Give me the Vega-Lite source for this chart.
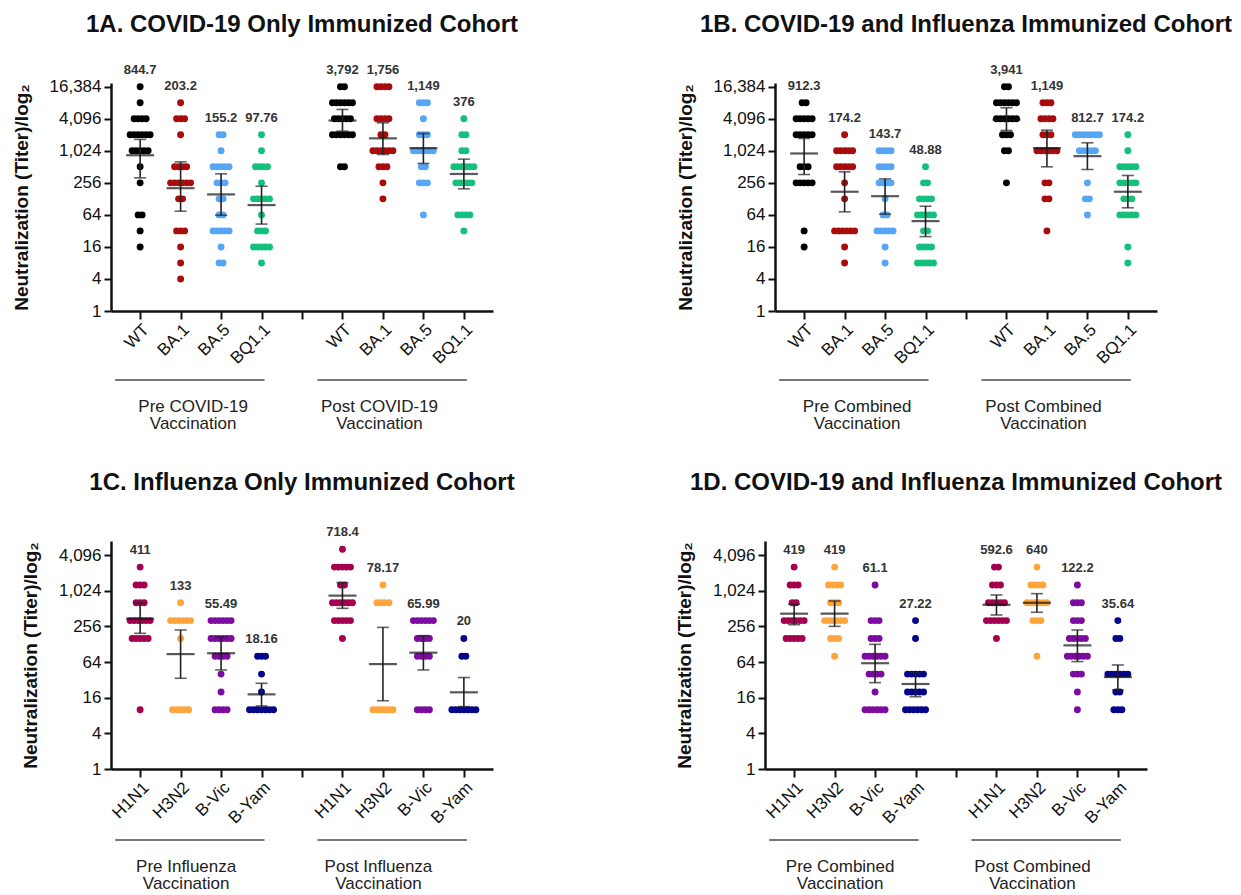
{
"$schema":"https://vega.github.io/schema/vega-lite/v6.json",
"padding":{"left":12,"top":12,"right":0,"bottom":0},
"config":{"font":"Liberation Sans","view":{"stroke":null},
"title":{"fontSize":24,"fontWeight":"bold","color":"#111","anchor":"middle","frame":"group","offset":27},
"axis":{"domainColor":"#111","domainWidth":2.5,"tickColor":"#111","tickWidth":2,"tickSize":7,"labelColor":"#111","grid":false,"titleColor":"#111","labelFlush":false},
"axisX":{"labelAngle":-45,"labelFontSize":17,"tickSize":8,"labelPadding":2},
"axisY":{"labelFontSize":17,"titleFontSize":19,"titleFontWeight":"bold","titlePadding":18,"labelPadding":3}},
"datasets":{
"a":[
{"c":"Pre|WT","t":16384},{"c":"Pre|WT","t":8192},{"c":"Pre|WT","t":4096},{"c":"Pre|WT","t":4096},{"c":"Pre|WT","t":4096},{"c":"Pre|WT","t":4096},{"c":"Pre|WT","t":2048},{"c":"Pre|WT","t":2048},{"c":"Pre|WT","t":2048},{"c":"Pre|WT","t":2048},{"c":"Pre|WT","t":2048},{"c":"Pre|WT","t":2048},{"c":"Pre|WT","t":1024},{"c":"Pre|WT","t":1024},{"c":"Pre|WT","t":1024},{"c":"Pre|WT","t":1024},{"c":"Pre|WT","t":1024},{"c":"Pre|WT","t":512},{"c":"Pre|WT","t":256},{"c":"Pre|WT","t":64},{"c":"Pre|WT","t":64},{"c":"Pre|WT","t":32},{"c":"Pre|WT","t":16},
{"c":"Pre|BA.1","t":8192},{"c":"Pre|BA.1","t":4096},{"c":"Pre|BA.1","t":4096},{"c":"Pre|BA.1","t":4096},{"c":"Pre|BA.1","t":2048},{"c":"Pre|BA.1","t":512},{"c":"Pre|BA.1","t":512},{"c":"Pre|BA.1","t":512},{"c":"Pre|BA.1","t":512},{"c":"Pre|BA.1","t":256},{"c":"Pre|BA.1","t":256},{"c":"Pre|BA.1","t":256},{"c":"Pre|BA.1","t":256},{"c":"Pre|BA.1","t":256},{"c":"Pre|BA.1","t":256},{"c":"Pre|BA.1","t":128},{"c":"Pre|BA.1","t":128},{"c":"Pre|BA.1","t":32},{"c":"Pre|BA.1","t":32},{"c":"Pre|BA.1","t":32},{"c":"Pre|BA.1","t":16},{"c":"Pre|BA.1","t":8},{"c":"Pre|BA.1","t":4},
{"c":"Pre|BA.5","t":2048},{"c":"Pre|BA.5","t":2048},{"c":"Pre|BA.5","t":1024},{"c":"Pre|BA.5","t":512},{"c":"Pre|BA.5","t":512},{"c":"Pre|BA.5","t":512},{"c":"Pre|BA.5","t":512},{"c":"Pre|BA.5","t":512},{"c":"Pre|BA.5","t":256},{"c":"Pre|BA.5","t":256},{"c":"Pre|BA.5","t":256},{"c":"Pre|BA.5","t":128},{"c":"Pre|BA.5","t":128},{"c":"Pre|BA.5","t":64},{"c":"Pre|BA.5","t":64},{"c":"Pre|BA.5","t":32},{"c":"Pre|BA.5","t":32},{"c":"Pre|BA.5","t":32},{"c":"Pre|BA.5","t":32},{"c":"Pre|BA.5","t":32},{"c":"Pre|BA.5","t":16},{"c":"Pre|BA.5","t":8},{"c":"Pre|BA.5","t":8},
{"c":"Pre|BQ1.1","t":2048},{"c":"Pre|BQ1.1","t":1024},{"c":"Pre|BQ1.1","t":512},{"c":"Pre|BQ1.1","t":512},{"c":"Pre|BQ1.1","t":512},{"c":"Pre|BQ1.1","t":512},{"c":"Pre|BQ1.1","t":256},{"c":"Pre|BQ1.1","t":128},{"c":"Pre|BQ1.1","t":128},{"c":"Pre|BQ1.1","t":128},{"c":"Pre|BQ1.1","t":128},{"c":"Pre|BQ1.1","t":128},{"c":"Pre|BQ1.1","t":64},{"c":"Pre|BQ1.1","t":32},{"c":"Pre|BQ1.1","t":32},{"c":"Pre|BQ1.1","t":32},{"c":"Pre|BQ1.1","t":16},{"c":"Pre|BQ1.1","t":16},{"c":"Pre|BQ1.1","t":16},{"c":"Pre|BQ1.1","t":16},{"c":"Pre|BQ1.1","t":16},{"c":"Pre|BQ1.1","t":8},
{"c":"Post|WT","t":16384},{"c":"Post|WT","t":16384},{"c":"Post|WT","t":8192},{"c":"Post|WT","t":8192},{"c":"Post|WT","t":8192},{"c":"Post|WT","t":8192},{"c":"Post|WT","t":8192},{"c":"Post|WT","t":8192},{"c":"Post|WT","t":4096},{"c":"Post|WT","t":4096},{"c":"Post|WT","t":4096},{"c":"Post|WT","t":4096},{"c":"Post|WT","t":4096},{"c":"Post|WT","t":2048},{"c":"Post|WT","t":2048},{"c":"Post|WT","t":2048},{"c":"Post|WT","t":2048},{"c":"Post|WT","t":2048},{"c":"Post|WT","t":2048},{"c":"Post|WT","t":512},{"c":"Post|WT","t":512},
{"c":"Post|BA.1","t":16384},{"c":"Post|BA.1","t":16384},{"c":"Post|BA.1","t":16384},{"c":"Post|BA.1","t":16384},{"c":"Post|BA.1","t":4096},{"c":"Post|BA.1","t":4096},{"c":"Post|BA.1","t":4096},{"c":"Post|BA.1","t":4096},{"c":"Post|BA.1","t":2048},{"c":"Post|BA.1","t":2048},{"c":"Post|BA.1","t":1024},{"c":"Post|BA.1","t":1024},{"c":"Post|BA.1","t":1024},{"c":"Post|BA.1","t":1024},{"c":"Post|BA.1","t":1024},{"c":"Post|BA.1","t":1024},{"c":"Post|BA.1","t":512},{"c":"Post|BA.1","t":512},{"c":"Post|BA.1","t":512},{"c":"Post|BA.1","t":256},{"c":"Post|BA.1","t":128},
{"c":"Post|BA.5","t":8192},{"c":"Post|BA.5","t":8192},{"c":"Post|BA.5","t":8192},{"c":"Post|BA.5","t":4096},{"c":"Post|BA.5","t":2048},{"c":"Post|BA.5","t":2048},{"c":"Post|BA.5","t":2048},{"c":"Post|BA.5","t":1024},{"c":"Post|BA.5","t":1024},{"c":"Post|BA.5","t":1024},{"c":"Post|BA.5","t":1024},{"c":"Post|BA.5","t":1024},{"c":"Post|BA.5","t":1024},{"c":"Post|BA.5","t":512},{"c":"Post|BA.5","t":512},{"c":"Post|BA.5","t":256},{"c":"Post|BA.5","t":256},{"c":"Post|BA.5","t":256},{"c":"Post|BA.5","t":64},
{"c":"Post|BQ1.1","t":4096},{"c":"Post|BQ1.1","t":2048},{"c":"Post|BQ1.1","t":2048},{"c":"Post|BQ1.1","t":1024},{"c":"Post|BQ1.1","t":1024},{"c":"Post|BQ1.1","t":512},{"c":"Post|BQ1.1","t":512},{"c":"Post|BQ1.1","t":512},{"c":"Post|BQ1.1","t":512},{"c":"Post|BQ1.1","t":512},{"c":"Post|BQ1.1","t":512},{"c":"Post|BQ1.1","t":256},{"c":"Post|BQ1.1","t":256},{"c":"Post|BQ1.1","t":256},{"c":"Post|BQ1.1","t":256},{"c":"Post|BQ1.1","t":256},{"c":"Post|BQ1.1","t":64},{"c":"Post|BQ1.1","t":64},{"c":"Post|BQ1.1","t":64},{"c":"Post|BQ1.1","t":64},{"c":"Post|BQ1.1","t":32}
],
"b":[
{"c":"Pre|WT","t":8192},{"c":"Pre|WT","t":8192},{"c":"Pre|WT","t":4096},{"c":"Pre|WT","t":4096},{"c":"Pre|WT","t":4096},{"c":"Pre|WT","t":4096},{"c":"Pre|WT","t":4096},{"c":"Pre|WT","t":2048},{"c":"Pre|WT","t":2048},{"c":"Pre|WT","t":2048},{"c":"Pre|WT","t":2048},{"c":"Pre|WT","t":2048},{"c":"Pre|WT","t":512},{"c":"Pre|WT","t":512},{"c":"Pre|WT","t":512},{"c":"Pre|WT","t":256},{"c":"Pre|WT","t":256},{"c":"Pre|WT","t":256},{"c":"Pre|WT","t":256},{"c":"Pre|WT","t":256},{"c":"Pre|WT","t":32},{"c":"Pre|WT","t":16},
{"c":"Pre|BA.1","t":2048},{"c":"Pre|BA.1","t":1024},{"c":"Pre|BA.1","t":1024},{"c":"Pre|BA.1","t":1024},{"c":"Pre|BA.1","t":1024},{"c":"Pre|BA.1","t":1024},{"c":"Pre|BA.1","t":512},{"c":"Pre|BA.1","t":512},{"c":"Pre|BA.1","t":512},{"c":"Pre|BA.1","t":512},{"c":"Pre|BA.1","t":512},{"c":"Pre|BA.1","t":256},{"c":"Pre|BA.1","t":128},{"c":"Pre|BA.1","t":32},{"c":"Pre|BA.1","t":32},{"c":"Pre|BA.1","t":32},{"c":"Pre|BA.1","t":32},{"c":"Pre|BA.1","t":32},{"c":"Pre|BA.1","t":32},{"c":"Pre|BA.1","t":16},{"c":"Pre|BA.1","t":8},
{"c":"Pre|BA.5","t":1024},{"c":"Pre|BA.5","t":1024},{"c":"Pre|BA.5","t":1024},{"c":"Pre|BA.5","t":1024},{"c":"Pre|BA.5","t":512},{"c":"Pre|BA.5","t":512},{"c":"Pre|BA.5","t":512},{"c":"Pre|BA.5","t":512},{"c":"Pre|BA.5","t":256},{"c":"Pre|BA.5","t":256},{"c":"Pre|BA.5","t":256},{"c":"Pre|BA.5","t":256},{"c":"Pre|BA.5","t":128},{"c":"Pre|BA.5","t":64},{"c":"Pre|BA.5","t":64},{"c":"Pre|BA.5","t":32},{"c":"Pre|BA.5","t":32},{"c":"Pre|BA.5","t":32},{"c":"Pre|BA.5","t":32},{"c":"Pre|BA.5","t":32},{"c":"Pre|BA.5","t":16},{"c":"Pre|BA.5","t":8},
{"c":"Pre|BQ1.1","t":512},{"c":"Pre|BQ1.1","t":256},{"c":"Pre|BQ1.1","t":256},{"c":"Pre|BQ1.1","t":128},{"c":"Pre|BQ1.1","t":128},{"c":"Pre|BQ1.1","t":128},{"c":"Pre|BQ1.1","t":128},{"c":"Pre|BQ1.1","t":64},{"c":"Pre|BQ1.1","t":64},{"c":"Pre|BQ1.1","t":64},{"c":"Pre|BQ1.1","t":64},{"c":"Pre|BQ1.1","t":64},{"c":"Pre|BQ1.1","t":32},{"c":"Pre|BQ1.1","t":32},{"c":"Pre|BQ1.1","t":16},{"c":"Pre|BQ1.1","t":16},{"c":"Pre|BQ1.1","t":16},{"c":"Pre|BQ1.1","t":16},{"c":"Pre|BQ1.1","t":8},{"c":"Pre|BQ1.1","t":8},{"c":"Pre|BQ1.1","t":8},{"c":"Pre|BQ1.1","t":8},{"c":"Pre|BQ1.1","t":8},
{"c":"Post|WT","t":16384},{"c":"Post|WT","t":16384},{"c":"Post|WT","t":8192},{"c":"Post|WT","t":8192},{"c":"Post|WT","t":8192},{"c":"Post|WT","t":8192},{"c":"Post|WT","t":8192},{"c":"Post|WT","t":8192},{"c":"Post|WT","t":4096},{"c":"Post|WT","t":4096},{"c":"Post|WT","t":4096},{"c":"Post|WT","t":4096},{"c":"Post|WT","t":4096},{"c":"Post|WT","t":4096},{"c":"Post|WT","t":2048},{"c":"Post|WT","t":2048},{"c":"Post|WT","t":2048},{"c":"Post|WT","t":1024},{"c":"Post|WT","t":1024},{"c":"Post|WT","t":256},
{"c":"Post|BA.1","t":8192},{"c":"Post|BA.1","t":8192},{"c":"Post|BA.1","t":8192},{"c":"Post|BA.1","t":4096},{"c":"Post|BA.1","t":4096},{"c":"Post|BA.1","t":4096},{"c":"Post|BA.1","t":4096},{"c":"Post|BA.1","t":2048},{"c":"Post|BA.1","t":2048},{"c":"Post|BA.1","t":2048},{"c":"Post|BA.1","t":1024},{"c":"Post|BA.1","t":1024},{"c":"Post|BA.1","t":1024},{"c":"Post|BA.1","t":1024},{"c":"Post|BA.1","t":1024},{"c":"Post|BA.1","t":1024},{"c":"Post|BA.1","t":256},{"c":"Post|BA.1","t":256},{"c":"Post|BA.1","t":128},{"c":"Post|BA.1","t":128},{"c":"Post|BA.1","t":32},
{"c":"Post|BA.5","t":2048},{"c":"Post|BA.5","t":2048},{"c":"Post|BA.5","t":2048},{"c":"Post|BA.5","t":2048},{"c":"Post|BA.5","t":2048},{"c":"Post|BA.5","t":2048},{"c":"Post|BA.5","t":2048},{"c":"Post|BA.5","t":1024},{"c":"Post|BA.5","t":1024},{"c":"Post|BA.5","t":1024},{"c":"Post|BA.5","t":1024},{"c":"Post|BA.5","t":1024},{"c":"Post|BA.5","t":256},{"c":"Post|BA.5","t":128},{"c":"Post|BA.5","t":128},{"c":"Post|BA.5","t":64},
{"c":"Post|BQ1.1","t":2048},{"c":"Post|BQ1.1","t":1024},{"c":"Post|BQ1.1","t":512},{"c":"Post|BQ1.1","t":512},{"c":"Post|BQ1.1","t":512},{"c":"Post|BQ1.1","t":512},{"c":"Post|BQ1.1","t":512},{"c":"Post|BQ1.1","t":256},{"c":"Post|BQ1.1","t":256},{"c":"Post|BQ1.1","t":256},{"c":"Post|BQ1.1","t":256},{"c":"Post|BQ1.1","t":256},{"c":"Post|BQ1.1","t":128},{"c":"Post|BQ1.1","t":128},{"c":"Post|BQ1.1","t":128},{"c":"Post|BQ1.1","t":64},{"c":"Post|BQ1.1","t":64},{"c":"Post|BQ1.1","t":64},{"c":"Post|BQ1.1","t":64},{"c":"Post|BQ1.1","t":64},{"c":"Post|BQ1.1","t":16},{"c":"Post|BQ1.1","t":8}
],
"c":[
{"c":"Pre|H1N1","t":2560},{"c":"Pre|H1N1","t":1280},{"c":"Pre|H1N1","t":1280},{"c":"Pre|H1N1","t":1280},{"c":"Pre|H1N1","t":640},{"c":"Pre|H1N1","t":640},{"c":"Pre|H1N1","t":640},{"c":"Pre|H1N1","t":320},{"c":"Pre|H1N1","t":320},{"c":"Pre|H1N1","t":320},{"c":"Pre|H1N1","t":320},{"c":"Pre|H1N1","t":320},{"c":"Pre|H1N1","t":320},{"c":"Pre|H1N1","t":160},{"c":"Pre|H1N1","t":160},{"c":"Pre|H1N1","t":160},{"c":"Pre|H1N1","t":160},{"c":"Pre|H1N1","t":160},{"c":"Pre|H1N1","t":10},
{"c":"Pre|H3N2","t":640},{"c":"Pre|H3N2","t":320},{"c":"Pre|H3N2","t":320},{"c":"Pre|H3N2","t":320},{"c":"Pre|H3N2","t":320},{"c":"Pre|H3N2","t":320},{"c":"Pre|H3N2","t":320},{"c":"Pre|H3N2","t":160},{"c":"Pre|H3N2","t":10},{"c":"Pre|H3N2","t":10},{"c":"Pre|H3N2","t":10},{"c":"Pre|H3N2","t":10},{"c":"Pre|H3N2","t":10},
{"c":"Pre|B-Vic","t":320},{"c":"Pre|B-Vic","t":320},{"c":"Pre|B-Vic","t":320},{"c":"Pre|B-Vic","t":320},{"c":"Pre|B-Vic","t":320},{"c":"Pre|B-Vic","t":320},{"c":"Pre|B-Vic","t":160},{"c":"Pre|B-Vic","t":160},{"c":"Pre|B-Vic","t":160},{"c":"Pre|B-Vic","t":160},{"c":"Pre|B-Vic","t":160},{"c":"Pre|B-Vic","t":160},{"c":"Pre|B-Vic","t":80},{"c":"Pre|B-Vic","t":80},{"c":"Pre|B-Vic","t":80},{"c":"Pre|B-Vic","t":80},{"c":"Pre|B-Vic","t":40},{"c":"Pre|B-Vic","t":20},{"c":"Pre|B-Vic","t":10},{"c":"Pre|B-Vic","t":10},{"c":"Pre|B-Vic","t":10},{"c":"Pre|B-Vic","t":10},
{"c":"Pre|B-Yam","t":80},{"c":"Pre|B-Yam","t":80},{"c":"Pre|B-Yam","t":80},{"c":"Pre|B-Yam","t":40},{"c":"Pre|B-Yam","t":20},{"c":"Pre|B-Yam","t":10},{"c":"Pre|B-Yam","t":10},{"c":"Pre|B-Yam","t":10},{"c":"Pre|B-Yam","t":10},{"c":"Pre|B-Yam","t":10},{"c":"Pre|B-Yam","t":10},{"c":"Pre|B-Yam","t":10},
{"c":"Post|H1N1","t":5120},{"c":"Post|H1N1","t":2560},{"c":"Post|H1N1","t":2560},{"c":"Post|H1N1","t":2560},{"c":"Post|H1N1","t":2560},{"c":"Post|H1N1","t":2560},{"c":"Post|H1N1","t":1280},{"c":"Post|H1N1","t":1280},{"c":"Post|H1N1","t":640},{"c":"Post|H1N1","t":640},{"c":"Post|H1N1","t":640},{"c":"Post|H1N1","t":640},{"c":"Post|H1N1","t":640},{"c":"Post|H1N1","t":640},{"c":"Post|H1N1","t":320},{"c":"Post|H1N1","t":320},{"c":"Post|H1N1","t":320},{"c":"Post|H1N1","t":320},{"c":"Post|H1N1","t":320},{"c":"Post|H1N1","t":160},
{"c":"Post|H3N2","t":1280},{"c":"Post|H3N2","t":640},{"c":"Post|H3N2","t":640},{"c":"Post|H3N2","t":640},{"c":"Post|H3N2","t":640},{"c":"Post|H3N2","t":10},{"c":"Post|H3N2","t":10},{"c":"Post|H3N2","t":10},{"c":"Post|H3N2","t":10},{"c":"Post|H3N2","t":10},{"c":"Post|H3N2","t":10},
{"c":"Post|B-Vic","t":320},{"c":"Post|B-Vic","t":320},{"c":"Post|B-Vic","t":320},{"c":"Post|B-Vic","t":320},{"c":"Post|B-Vic","t":320},{"c":"Post|B-Vic","t":320},{"c":"Post|B-Vic","t":160},{"c":"Post|B-Vic","t":160},{"c":"Post|B-Vic","t":160},{"c":"Post|B-Vic","t":160},{"c":"Post|B-Vic","t":80},{"c":"Post|B-Vic","t":80},{"c":"Post|B-Vic","t":80},{"c":"Post|B-Vic","t":80},{"c":"Post|B-Vic","t":10},{"c":"Post|B-Vic","t":10},{"c":"Post|B-Vic","t":10},{"c":"Post|B-Vic","t":10},
{"c":"Post|B-Yam","t":160},{"c":"Post|B-Yam","t":80},{"c":"Post|B-Yam","t":80},{"c":"Post|B-Yam","t":10},{"c":"Post|B-Yam","t":10},{"c":"Post|B-Yam","t":10},{"c":"Post|B-Yam","t":10},{"c":"Post|B-Yam","t":10},{"c":"Post|B-Yam","t":10},{"c":"Post|B-Yam","t":10}
],
"d":[
{"c":"Pre|H1N1","t":2560},{"c":"Pre|H1N1","t":1280},{"c":"Pre|H1N1","t":1280},{"c":"Pre|H1N1","t":1280},{"c":"Pre|H1N1","t":640},{"c":"Pre|H1N1","t":640},{"c":"Pre|H1N1","t":320},{"c":"Pre|H1N1","t":320},{"c":"Pre|H1N1","t":320},{"c":"Pre|H1N1","t":320},{"c":"Pre|H1N1","t":320},{"c":"Pre|H1N1","t":320},{"c":"Pre|H1N1","t":160},{"c":"Pre|H1N1","t":160},{"c":"Pre|H1N1","t":160},{"c":"Pre|H1N1","t":160},{"c":"Pre|H1N1","t":160},
{"c":"Pre|H3N2","t":2560},{"c":"Pre|H3N2","t":1280},{"c":"Pre|H3N2","t":1280},{"c":"Pre|H3N2","t":1280},{"c":"Pre|H3N2","t":1280},{"c":"Pre|H3N2","t":640},{"c":"Pre|H3N2","t":640},{"c":"Pre|H3N2","t":640},{"c":"Pre|H3N2","t":320},{"c":"Pre|H3N2","t":320},{"c":"Pre|H3N2","t":320},{"c":"Pre|H3N2","t":320},{"c":"Pre|H3N2","t":320},{"c":"Pre|H3N2","t":320},{"c":"Pre|H3N2","t":160},{"c":"Pre|H3N2","t":160},{"c":"Pre|H3N2","t":160},{"c":"Pre|H3N2","t":80},
{"c":"Pre|B-Vic","t":1280},{"c":"Pre|B-Vic","t":320},{"c":"Pre|B-Vic","t":320},{"c":"Pre|B-Vic","t":320},{"c":"Pre|B-Vic","t":160},{"c":"Pre|B-Vic","t":160},{"c":"Pre|B-Vic","t":160},{"c":"Pre|B-Vic","t":80},{"c":"Pre|B-Vic","t":80},{"c":"Pre|B-Vic","t":80},{"c":"Pre|B-Vic","t":80},{"c":"Pre|B-Vic","t":80},{"c":"Pre|B-Vic","t":80},{"c":"Pre|B-Vic","t":40},{"c":"Pre|B-Vic","t":40},{"c":"Pre|B-Vic","t":40},{"c":"Pre|B-Vic","t":40},{"c":"Pre|B-Vic","t":20},{"c":"Pre|B-Vic","t":10},{"c":"Pre|B-Vic","t":10},{"c":"Pre|B-Vic","t":10},{"c":"Pre|B-Vic","t":10},{"c":"Pre|B-Vic","t":10},{"c":"Pre|B-Vic","t":10},
{"c":"Pre|B-Yam","t":320},{"c":"Pre|B-Yam","t":160},{"c":"Pre|B-Yam","t":40},{"c":"Pre|B-Yam","t":40},{"c":"Pre|B-Yam","t":40},{"c":"Pre|B-Yam","t":40},{"c":"Pre|B-Yam","t":40},{"c":"Pre|B-Yam","t":20},{"c":"Pre|B-Yam","t":20},{"c":"Pre|B-Yam","t":20},{"c":"Pre|B-Yam","t":20},{"c":"Pre|B-Yam","t":20},{"c":"Pre|B-Yam","t":10},{"c":"Pre|B-Yam","t":10},{"c":"Pre|B-Yam","t":10},{"c":"Pre|B-Yam","t":10},{"c":"Pre|B-Yam","t":10},{"c":"Pre|B-Yam","t":10},
{"c":"Post|H1N1","t":2560},{"c":"Post|H1N1","t":2560},{"c":"Post|H1N1","t":1280},{"c":"Post|H1N1","t":1280},{"c":"Post|H1N1","t":1280},{"c":"Post|H1N1","t":640},{"c":"Post|H1N1","t":640},{"c":"Post|H1N1","t":640},{"c":"Post|H1N1","t":640},{"c":"Post|H1N1","t":640},{"c":"Post|H1N1","t":320},{"c":"Post|H1N1","t":320},{"c":"Post|H1N1","t":320},{"c":"Post|H1N1","t":320},{"c":"Post|H1N1","t":320},{"c":"Post|H1N1","t":320},{"c":"Post|H1N1","t":160},
{"c":"Post|H3N2","t":2560},{"c":"Post|H3N2","t":1280},{"c":"Post|H3N2","t":1280},{"c":"Post|H3N2","t":1280},{"c":"Post|H3N2","t":1280},{"c":"Post|H3N2","t":640},{"c":"Post|H3N2","t":640},{"c":"Post|H3N2","t":640},{"c":"Post|H3N2","t":640},{"c":"Post|H3N2","t":640},{"c":"Post|H3N2","t":640},{"c":"Post|H3N2","t":320},{"c":"Post|H3N2","t":320},{"c":"Post|H3N2","t":320},{"c":"Post|H3N2","t":80},
{"c":"Post|B-Vic","t":1280},{"c":"Post|B-Vic","t":640},{"c":"Post|B-Vic","t":640},{"c":"Post|B-Vic","t":640},{"c":"Post|B-Vic","t":320},{"c":"Post|B-Vic","t":320},{"c":"Post|B-Vic","t":320},{"c":"Post|B-Vic","t":160},{"c":"Post|B-Vic","t":160},{"c":"Post|B-Vic","t":160},{"c":"Post|B-Vic","t":160},{"c":"Post|B-Vic","t":160},{"c":"Post|B-Vic","t":80},{"c":"Post|B-Vic","t":80},{"c":"Post|B-Vic","t":80},{"c":"Post|B-Vic","t":80},{"c":"Post|B-Vic","t":80},{"c":"Post|B-Vic","t":80},{"c":"Post|B-Vic","t":40},{"c":"Post|B-Vic","t":40},{"c":"Post|B-Vic","t":40},{"c":"Post|B-Vic","t":20},{"c":"Post|B-Vic","t":10},
{"c":"Post|B-Yam","t":320},{"c":"Post|B-Yam","t":160},{"c":"Post|B-Yam","t":160},{"c":"Post|B-Yam","t":40},{"c":"Post|B-Yam","t":40},{"c":"Post|B-Yam","t":40},{"c":"Post|B-Yam","t":40},{"c":"Post|B-Yam","t":40},{"c":"Post|B-Yam","t":40},{"c":"Post|B-Yam","t":20},{"c":"Post|B-Yam","t":20},{"c":"Post|B-Yam","t":10},{"c":"Post|B-Yam","t":10},{"c":"Post|B-Yam","t":10}
],
"sa":[
{"c":"Pre|WT","g":844.7,"m":844.7,"lo":318,"hi":1675},{"c":"Pre|BA.1","g":203.2,"m":203.2,"lo":75,"hi":635},{"c":"Pre|BA.5","g":155.2,"m":155.2,"lo":63,"hi":378},{"c":"Pre|BQ1.1","g":97.76,"m":97.76,"lo":43,"hi":221},
{"c":"Post|WT","g":3792,"m":3792,"lo":2400,"hi":6130},{"c":"Post|BA.1","g":1756,"m":1756,"lo":873,"hi":3444},{"c":"Post|BA.5","g":1149,"m":1149,"lo":592,"hi":2170},{"c":"Post|BQ1.1","g":376,"m":376,"lo":198,"hi":714}],
"sb":[
{"c":"Pre|WT","g":912.3,"m":912.3,"lo":367,"hi":1746},{"c":"Pre|BA.1","g":174.2,"m":174.2,"lo":73,"hi":412},{"c":"Pre|BA.5","g":143.7,"m":143.7,"lo":66,"hi":304},{"c":"Pre|BQ1.1","g":48.88,"m":48.88,"lo":25,"hi":93},
{"c":"Post|WT","g":3941,"m":3941,"lo":2470,"hi":6600},{"c":"Post|BA.1","g":1149,"m":1149,"lo":512,"hi":2500},{"c":"Post|BA.5","g":812.7,"m":812.7,"lo":456,"hi":1448},{"c":"Post|BQ1.1","g":174.2,"m":174.2,"lo":87,"hi":352}],
"sc":[
{"c":"Pre|H1N1","g":411,"m":345,"lo":195,"hi":635},{"c":"Pre|H3N2","g":133,"m":87,"lo":34,"hi":222},{"c":"Pre|B-Vic","g":55.49,"m":90,"lo":47,"hi":169},{"c":"Pre|B-Yam","g":18.16,"m":18.2,"lo":11.6,"hi":28},
{"c":"Post|H1N1","g":718.4,"m":845,"lo":515,"hi":1400},{"c":"Post|H3N2","g":78.17,"m":59,"lo":14.2,"hi":246},{"c":"Post|B-Vic","g":65.99,"m":92,"lo":47,"hi":178},{"c":"Post|B-Yam","g":20,"m":19.7,"lo":11.3,"hi":35}],
"sd":[
{"c":"Pre|H1N1","g":419,"m":419,"lo":273,"hi":603},{"c":"Pre|H3N2","g":419,"m":419,"lo":256,"hi":685},{"c":"Pre|B-Vic","g":61.1,"m":61.1,"lo":28.7,"hi":127},{"c":"Pre|B-Yam","g":27.22,"m":27.22,"lo":16.6,"hi":42},
{"c":"Post|H1N1","g":592.6,"m":592.6,"lo":398,"hi":866},{"c":"Post|H3N2","g":640,"m":640,"lo":442,"hi":912},{"c":"Post|B-Vic","g":122.2,"m":122.2,"lo":65,"hi":222},{"c":"Post|B-Yam","g":35.64,"m":35.64,"lo":21.5,"hi":57}],
"ga":[{"a":"Pre|WT","b":"Pre|BQ1.1","lab":"Pre COVID-19\nVaccination"},{"a":"Post|WT","b":"Post|BQ1.1","lab":"Post COVID-19\nVaccination"}],
"gb":[{"a":"Pre|WT","b":"Pre|BQ1.1","lab":"Pre Combined\nVaccination"},{"a":"Post|WT","b":"Post|BQ1.1","lab":"Post Combined\nVaccination"}],
"gc":[{"a":"Pre|H1N1","b":"Pre|B-Yam","lab":"Pre Influenza\nVaccination"},{"a":"Post|H1N1","b":"Post|B-Yam","lab":"Post Influenza\nVaccination"}],
"gd":[{"a":"Pre|H1N1","b":"Pre|B-Yam","lab":"Pre Combined\nVaccination"},{"a":"Post|H1N1","b":"Post|B-Yam","lab":"Post Combined\nVaccination"}]
},
"spacing":39,
"vconcat":[
{"hconcat":[
{"spacing":12,"vconcat":[
{"width":382,"height":228,"title":{"text":"1A. COVID-19 Only Immunized Cohort","offset":27},"layer":[
{"data":{"name":"a"},"transform":[{"window":[{"op":"row_number","as":"i"}],"groupby":["c","t"]},{"joinaggregate":[{"op":"count","as":"n"}],"groupby":["c","t"]},{"calculate":"datum.i-(datum.n+1)/2","as":"o"},{"calculate":"split(datum.c,'|')[1]","as":"v"}],
"mark":{"type":"circle","size":48,"opacity":1},
"encoding":{"x":{"field":"c","type":"nominal","scale":{"type":"point","domain":["Pre|WT","Pre|BA.1","Pre|BA.5","Pre|BQ1.1","gap","Post|WT","Post|BA.1","Post|BA.5","Post|BQ1.1"],"padding":0.72},"axis":{"title":null,"labelExpr":"split(datum.value,'|')[1] || ''"}},
"xOffset":{"field":"o","type":"quantitative","scale":{"domain":[-5,5],"range":[-20,20]}},
"y":{"field":"t","type":"quantitative","scale":{"type":"log","base":2,"domain":[1,19250],"nice":false},"axis":{"values":[1,4,16,64,256,1024,4096,16384],"format":",","title":"Neutralization (Titer)/log₂"}},
"color":{"field":"v","type":"nominal","scale":{"domain":["WT","BA.1","BA.5","BQ1.1","H1N1","H3N2","B-Vic","B-Yam"],"range":["#000000","#a80c0c","#55a6f5","#14c07c","#a4004f","#ffa53d","#7d0ba0","#05058c"]},"legend":null}}},
{"data":{"name":"sa"},"mark":{"type":"rule","strokeWidth":1.6,"color":"#222"},"encoding":{"x":{"field":"c","type":"nominal"},"y":{"field":"lo","type":"quantitative"},"y2":{"field":"hi"}}},
{"data":{"name":"sa"},"transform":[{"fold":["lo","hi"]}],"mark":{"type":"tick","orient":"horizontal","size":12,"thickness":1.6,"color":"#222"},"encoding":{"x":{"field":"c","type":"nominal"},"y":{"field":"value","type":"quantitative"}}},
{"data":{"name":"sa"},"mark":{"type":"tick","orient":"horizontal","size":28,"thickness":2.2,"color":"#111"},"encoding":{"x":{"field":"c","type":"nominal"},"y":{"field":"m","type":"quantitative"}}},
{"data":{"name":"a"},"transform":[{"aggregate":[{"op":"max","field":"t","as":"top"}],"groupby":["c"]},{"lookup":"c","from":{"data":{"name":"sa"},"key":"c","fields":["g"]}}],"mark":{"type":"text","dy":-17,"fontSize":13,"fontWeight":"bold","color":"#333"},"encoding":{"x":{"field":"c","type":"nominal"},"y":{"field":"top","type":"quantitative"},"text":{"field":"g","type":"quantitative","format":",.4~r"}}}
]},
{"width":382,"height":19,"data":{"name":"ga"},"encoding":{"x":{"field":"a","type":"nominal","scale":{"type":"point","domain":["Pre|WT","Pre|BA.1","Pre|BA.5","Pre|BQ1.1","gap","Post|WT","Post|BA.1","Post|BA.5","Post|BQ1.1"],"padding":0.72},"axis":null}},"layer":[
{"mark":{"type":"rule","strokeWidth":2,"color":"#777","xOffset":-25,"x2Offset":3},"encoding":{"x2":{"field":"b"},"y":{"datum":"r","type":"nominal","scale":{"type":"point","domain":["r","t"],"padding":0},"axis":null}}},
{"transform":[{"filter":"indexof(datum.a,'Pre')==0"}],"mark":{"type":"text","dx":53,"baseline":"top","lineBreak":"\n","fontSize":17,"lineHeight":17,"color":"#222"},"encoding":{"y":{"datum":"t","type":"nominal"},"text":{"field":"lab"}}},
{"transform":[{"filter":"indexof(datum.a,'Post')==0"}],"mark":{"type":"text","dx":37,"baseline":"top","lineBreak":"\n","fontSize":17,"lineHeight":17,"color":"#222"},"encoding":{"y":{"datum":"t","type":"nominal"},"text":{"field":"lab"}}}
]}
]},
{"spacing":12,"vconcat":[
{"width":382,"height":228,"title":{"text":"1B. COVID-19 and Influenza Immunized Cohort","offset":27},"layer":[
{"data":{"name":"b"},"transform":[{"window":[{"op":"row_number","as":"i"}],"groupby":["c","t"]},{"joinaggregate":[{"op":"count","as":"n"}],"groupby":["c","t"]},{"calculate":"datum.i-(datum.n+1)/2","as":"o"},{"calculate":"split(datum.c,'|')[1]","as":"v"}],
"mark":{"type":"circle","size":48,"opacity":1},
"encoding":{"x":{"field":"c","type":"nominal","scale":{"type":"point","domain":["Pre|WT","Pre|BA.1","Pre|BA.5","Pre|BQ1.1","gap","Post|WT","Post|BA.1","Post|BA.5","Post|BQ1.1"],"padding":0.72},"axis":{"title":null,"labelExpr":"split(datum.value,'|')[1] || ''"}},
"xOffset":{"field":"o","type":"quantitative","scale":{"domain":[-5,5],"range":[-20,20]}},
"y":{"field":"t","type":"quantitative","scale":{"type":"log","base":2,"domain":[1,19250],"nice":false},"axis":{"values":[1,4,16,64,256,1024,4096,16384],"format":",","title":"Neutralization (Titer)/log₂"}},
"color":{"field":"v","type":"nominal","scale":{"domain":["WT","BA.1","BA.5","BQ1.1","H1N1","H3N2","B-Vic","B-Yam"],"range":["#000000","#a80c0c","#55a6f5","#14c07c","#a4004f","#ffa53d","#7d0ba0","#05058c"]},"legend":null}}},
{"data":{"name":"sb"},"mark":{"type":"rule","strokeWidth":1.6,"color":"#222"},"encoding":{"x":{"field":"c","type":"nominal"},"y":{"field":"lo","type":"quantitative"},"y2":{"field":"hi"}}},
{"data":{"name":"sb"},"transform":[{"fold":["lo","hi"]}],"mark":{"type":"tick","orient":"horizontal","size":12,"thickness":1.6,"color":"#222"},"encoding":{"x":{"field":"c","type":"nominal"},"y":{"field":"value","type":"quantitative"}}},
{"data":{"name":"sb"},"mark":{"type":"tick","orient":"horizontal","size":28,"thickness":2.2,"color":"#111"},"encoding":{"x":{"field":"c","type":"nominal"},"y":{"field":"m","type":"quantitative"}}},
{"data":{"name":"b"},"transform":[{"aggregate":[{"op":"max","field":"t","as":"top"}],"groupby":["c"]},{"lookup":"c","from":{"data":{"name":"sb"},"key":"c","fields":["g"]}}],"mark":{"type":"text","dy":-17,"fontSize":13,"fontWeight":"bold","color":"#333"},"encoding":{"x":{"field":"c","type":"nominal"},"y":{"field":"top","type":"quantitative"},"text":{"field":"g","type":"quantitative","format":",.4~r"}}}
]},
{"width":382,"height":19,"data":{"name":"gb"},"encoding":{"x":{"field":"a","type":"nominal","scale":{"type":"point","domain":["Pre|WT","Pre|BA.1","Pre|BA.5","Pre|BQ1.1","gap","Post|WT","Post|BA.1","Post|BA.5","Post|BQ1.1"],"padding":0.72},"axis":null}},"layer":[
{"mark":{"type":"rule","strokeWidth":2,"color":"#777","xOffset":-25,"x2Offset":3},"encoding":{"x2":{"field":"b"},"y":{"datum":"r","type":"nominal","scale":{"type":"point","domain":["r","t"],"padding":0},"axis":null}}},
{"transform":[{"filter":"indexof(datum.a,'Pre')==0"}],"mark":{"type":"text","dx":53,"baseline":"top","lineBreak":"\n","fontSize":17,"lineHeight":17,"color":"#222"},"encoding":{"y":{"datum":"t","type":"nominal"},"text":{"field":"lab"}}},
{"transform":[{"filter":"indexof(datum.a,'Post')==0"}],"mark":{"type":"text","dx":37,"baseline":"top","lineBreak":"\n","fontSize":17,"lineHeight":17,"color":"#222"},"encoding":{"y":{"datum":"t","type":"nominal"},"text":{"field":"lab"}}}
]}
]}
],"spacing":157},
{"hconcat":[
{"spacing":12,"vconcat":[
{"width":382,"height":228,"title":{"text":"1C. Influenza Only Immunized Cohort","offset":31},"layer":[
{"data":{"name":"c"},"transform":[{"window":[{"op":"row_number","as":"i"}],"groupby":["c","t"]},{"joinaggregate":[{"op":"count","as":"n"}],"groupby":["c","t"]},{"calculate":"datum.i-(datum.n+1)/2","as":"o"},{"calculate":"split(datum.c,'|')[1]","as":"v"}],
"mark":{"type":"circle","size":48,"opacity":1},
"encoding":{"x":{"field":"c","type":"nominal","scale":{"type":"point","domain":["Pre|H1N1","Pre|H3N2","Pre|B-Vic","Pre|B-Yam","gap","Post|H1N1","Post|H3N2","Post|B-Vic","Post|B-Yam"],"padding":0.72},"axis":{"title":null,"labelExpr":"split(datum.value,'|')[1] || ''"}},
"xOffset":{"field":"o","type":"quantitative","scale":{"domain":[-5,5],"range":[-20,20]}},
"y":{"field":"t","type":"quantitative","scale":{"type":"log","base":2,"domain":[1,7060],"nice":false},"axis":{"values":[1,4,16,64,256,1024,4096],"format":",","title":"Neutralization (Titer)/log₂"}},
"color":{"field":"v","type":"nominal","scale":{"domain":["WT","BA.1","BA.5","BQ1.1","H1N1","H3N2","B-Vic","B-Yam"],"range":["#000000","#a80c0c","#55a6f5","#14c07c","#a4004f","#ffa53d","#7d0ba0","#05058c"]},"legend":null}}},
{"data":{"name":"sc"},"mark":{"type":"rule","strokeWidth":1.6,"color":"#222"},"encoding":{"x":{"field":"c","type":"nominal"},"y":{"field":"lo","type":"quantitative"},"y2":{"field":"hi"}}},
{"data":{"name":"sc"},"transform":[{"fold":["lo","hi"]}],"mark":{"type":"tick","orient":"horizontal","size":12,"thickness":1.6,"color":"#222"},"encoding":{"x":{"field":"c","type":"nominal"},"y":{"field":"value","type":"quantitative"}}},
{"data":{"name":"sc"},"mark":{"type":"tick","orient":"horizontal","size":28,"thickness":2.2,"color":"#111"},"encoding":{"x":{"field":"c","type":"nominal"},"y":{"field":"m","type":"quantitative"}}},
{"data":{"name":"c"},"transform":[{"aggregate":[{"op":"max","field":"t","as":"top"}],"groupby":["c"]},{"lookup":"c","from":{"data":{"name":"sc"},"key":"c","fields":["g"]}}],"mark":{"type":"text","dy":-17,"fontSize":13,"fontWeight":"bold","color":"#333"},"encoding":{"x":{"field":"c","type":"nominal"},"y":{"field":"top","type":"quantitative"},"text":{"field":"g","type":"quantitative","format":",.4~r"}}}
]},
{"width":382,"height":19,"data":{"name":"gc"},"encoding":{"x":{"field":"a","type":"nominal","scale":{"type":"point","domain":["Pre|H1N1","Pre|H3N2","Pre|B-Vic","Pre|B-Yam","gap","Post|H1N1","Post|H3N2","Post|B-Vic","Post|B-Yam"],"padding":0.72},"axis":null}},"layer":[
{"mark":{"type":"rule","strokeWidth":2,"color":"#777","xOffset":-25,"x2Offset":3},"encoding":{"x2":{"field":"b"},"y":{"datum":"r","type":"nominal","scale":{"type":"point","domain":["r","t"],"padding":0},"axis":null}}},
{"transform":[{"filter":"indexof(datum.a,'Pre')==0"}],"mark":{"type":"text","dx":46,"baseline":"top","lineBreak":"\n","fontSize":17,"lineHeight":17,"color":"#222"},"encoding":{"y":{"datum":"t","type":"nominal"},"text":{"field":"lab"}}},
{"transform":[{"filter":"indexof(datum.a,'Post')==0"}],"mark":{"type":"text","dx":36,"baseline":"top","lineBreak":"\n","fontSize":17,"lineHeight":17,"color":"#222"},"encoding":{"y":{"datum":"t","type":"nominal"},"text":{"field":"lab"}}}
]}
]},
{"spacing":12,"vconcat":[
{"width":382,"height":228,"title":{"text":"1D. COVID-19 and Influenza Immunized Cohort","offset":46},"layer":[
{"data":{"name":"d"},"transform":[{"window":[{"op":"row_number","as":"i"}],"groupby":["c","t"]},{"joinaggregate":[{"op":"count","as":"n"}],"groupby":["c","t"]},{"calculate":"datum.i-(datum.n+1)/2","as":"o"},{"calculate":"split(datum.c,'|')[1]","as":"v"}],
"mark":{"type":"circle","size":48,"opacity":1},
"encoding":{"x":{"field":"c","type":"nominal","scale":{"type":"point","domain":["Pre|H1N1","Pre|H3N2","Pre|B-Vic","Pre|B-Yam","gap","Post|H1N1","Post|H3N2","Post|B-Vic","Post|B-Yam"],"padding":0.72},"axis":{"title":null,"labelExpr":"split(datum.value,'|')[1] || ''"}},
"xOffset":{"field":"o","type":"quantitative","scale":{"domain":[-5,5],"range":[-20,20]}},
"y":{"field":"t","type":"quantitative","scale":{"type":"log","base":2,"domain":[1,7060],"nice":false},"axis":{"values":[1,4,16,64,256,1024,4096],"format":",","title":"Neutralization (Titer)/log₂"}},
"color":{"field":"v","type":"nominal","scale":{"domain":["WT","BA.1","BA.5","BQ1.1","H1N1","H3N2","B-Vic","B-Yam"],"range":["#000000","#a80c0c","#55a6f5","#14c07c","#a4004f","#ffa53d","#7d0ba0","#05058c"]},"legend":null}}},
{"data":{"name":"sd"},"mark":{"type":"rule","strokeWidth":1.6,"color":"#222"},"encoding":{"x":{"field":"c","type":"nominal"},"y":{"field":"lo","type":"quantitative"},"y2":{"field":"hi"}}},
{"data":{"name":"sd"},"transform":[{"fold":["lo","hi"]}],"mark":{"type":"tick","orient":"horizontal","size":12,"thickness":1.6,"color":"#222"},"encoding":{"x":{"field":"c","type":"nominal"},"y":{"field":"value","type":"quantitative"}}},
{"data":{"name":"sd"},"mark":{"type":"tick","orient":"horizontal","size":28,"thickness":2.2,"color":"#111"},"encoding":{"x":{"field":"c","type":"nominal"},"y":{"field":"m","type":"quantitative"}}},
{"data":{"name":"d"},"transform":[{"aggregate":[{"op":"max","field":"t","as":"top"}],"groupby":["c"]},{"lookup":"c","from":{"data":{"name":"sd"},"key":"c","fields":["g"]}}],"mark":{"type":"text","dy":-17,"fontSize":13,"fontWeight":"bold","color":"#333"},"encoding":{"x":{"field":"c","type":"nominal"},"y":{"field":"top","type":"quantitative"},"text":{"field":"g","type":"quantitative","format":",.4~r"}}}
]},
{"width":382,"height":19,"data":{"name":"gd"},"encoding":{"x":{"field":"a","type":"nominal","scale":{"type":"point","domain":["Pre|H1N1","Pre|H3N2","Pre|B-Vic","Pre|B-Yam","gap","Post|H1N1","Post|H3N2","Post|B-Vic","Post|B-Yam"],"padding":0.72},"axis":null}},"layer":[
{"mark":{"type":"rule","strokeWidth":2,"color":"#777","xOffset":-25,"x2Offset":3},"encoding":{"x2":{"field":"b"},"y":{"datum":"r","type":"nominal","scale":{"type":"point","domain":["r","t"],"padding":0},"axis":null}}},
{"transform":[{"filter":"indexof(datum.a,'Pre')==0"}],"mark":{"type":"text","dx":46,"baseline":"top","lineBreak":"\n","fontSize":17,"lineHeight":17,"color":"#222"},"encoding":{"y":{"datum":"t","type":"nominal"},"text":{"field":"lab"}}},
{"transform":[{"filter":"indexof(datum.a,'Post')==0"}],"mark":{"type":"text","dx":36,"baseline":"top","lineBreak":"\n","fontSize":17,"lineHeight":17,"color":"#222"},"encoding":{"y":{"datum":"t","type":"nominal"},"text":{"field":"lab"}}}
]}
]}
],"spacing":160}
]
}
